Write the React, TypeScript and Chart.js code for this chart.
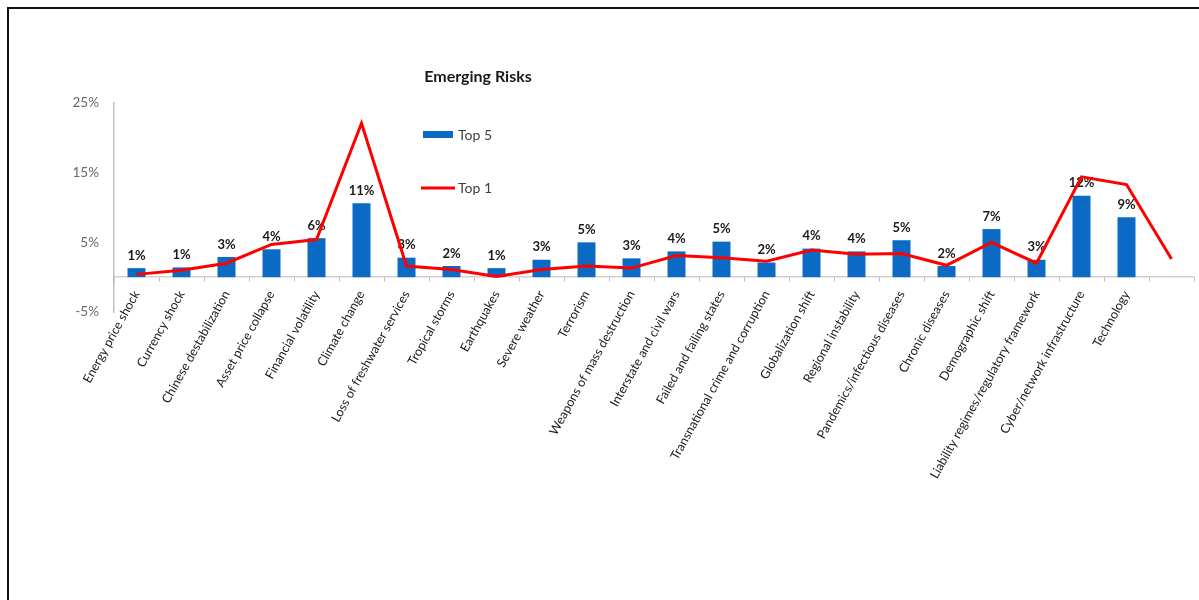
import React, { useEffect, useRef } from "react";
import { Chart, registerables } from "chart.js";

Chart.register(...registerables);

const categories = [
  "Energy price shock",
  "Currency shock",
  "Chinese destabilization",
  "Asset price collapse",
  "Financial volatility",
  "Climate change",
  "Loss of freshwater services",
  "Tropical storms",
  "Earthquakes",
  "Severe weather",
  "Terrorism",
  "Weapons of mass destruction",
  "Interstate and civil wars",
  "Failed and failing states",
  "Transnational crime and corruption",
  "Globalization shift",
  "Regional instability",
  "Pandemics/infectious diseases",
  "Chronic diseases",
  "Demographic shift",
  "Liability regimes/regulatory framework",
  "Cyber/network infrastructure",
  "Technology",
  "",
];

const top5: (number | null)[] = [
  1.3, 1.4, 2.9, 4.0, 5.6, 10.6, 2.8, 1.6, 1.3, 2.5, 5.0, 2.7, 3.7, 5.1, 2.1,
  4.1, 3.7, 5.3, 1.6, 6.9, 2.5, 11.7, 8.6, null,
];

const top1: number[] = [
  0.4, 1.0, 2.0, 4.7, 5.4, 22.1, 1.6, 1.1, 0.1, 1.1, 1.6, 1.3, 3.1, 2.8, 2.3,
  3.9, 3.3, 3.4, 1.7, 5.0, 2.0, 14.4, 13.3, 2.6,
];

const yTicks = [-5, 5, 15, 25];

const seriesNames = ["Top 5", "Top 1"];
const titleText = "Emerging Risks";

const BLUE = "#0B6BC4";
const RED = "#FF0000";
const FONT = "Lato, 'Open Sans', sans-serif";

const overlayPlugin = {
  id: "overlay",
  afterDatasetDraw(chart: any, args: any) {
    if (args.index !== 1) return;
    const ctx = chart.ctx;
    ctx.save();
    ctx.font = `bold 13px ${FONT}`;
    ctx.fillStyle = "#1a1a1a";
    ctx.textAlign = "center";
    ctx.textBaseline = "bottom";
    args.meta.data.forEach((el: any, i: number) => {
      const v = top5[i];
      if (v == null) return;
      ctx.fillText(Math.round(v) + "%", el.x, el.y - 6);
    });
    ctx.restore();
  },
  afterDraw(chart: any) {
    const ctx = chart.ctx;
    ctx.save();
    // title
    ctx.font = `bold 16px ${FONT}`;
    ctx.fillStyle = "#1a1a1a";
    ctx.textAlign = "center";
    ctx.textBaseline = "middle";
    ctx.fillText(titleText, 478, 77);
    // legend
    ctx.font = `14px ${FONT}`;
    ctx.textAlign = "left";
    ctx.fillStyle = BLUE;
    ctx.fillRect(423, 131, 30, 7);
    ctx.fillStyle = "#404040";
    ctx.fillText(seriesNames[0], 458, 135);
    ctx.strokeStyle = RED;
    ctx.lineWidth = 3;
    ctx.beginPath();
    ctx.moveTo(421, 188);
    ctx.lineTo(455, 188);
    ctx.stroke();
    ctx.fillText(seriesNames[1], 458, 188);
    ctx.restore();
  },
};

export default function App() {
  const canvasRef = useRef<HTMLCanvasElement | null>(null);

  useEffect(() => {
    if (!canvasRef.current) return;
    const chart = new Chart(canvasRef.current, {
      type: "bar",
      data: {
        labels: categories,
        datasets: [
          {
            type: "line",
            label: seriesNames[1],
            data: top1,
            borderColor: RED,
            backgroundColor: RED,
            borderWidth: 3,
            pointRadius: 0,
            tension: 0,
            order: 0,
          } as any,
          {
            type: "bar",
            label: seriesNames[0],
            data: top5,
            backgroundColor: BLUE,
            barPercentage: 0.4,
            categoryPercentage: 1,
            order: 1,
          },
        ],
      },
      options: {
        animation: false,
        responsive: true,
        maintainAspectRatio: false,
        layout: { padding: { left: 0, top: 103, right: 5, bottom: 288 } },
        plugins: {
          legend: { display: false },
          title: { display: false },
          tooltip: { enabled: false },
        },
        scales: {
          x: {
            type: "category",
            position: { y: 0 } as any,
            offset: true,
            grid: {
              offset: true,
              drawOnChartArea: false,
              drawTicks: true,
              tickLength: 4,
              color: "#BFBFBF",
            },
            border: { display: true, color: "#D6CFCF", width: 1.5 },
            ticks: {
              autoSkip: false,
              maxRotation: 61,
              minRotation: 61,
              padding: 7,
              color: "#1a1a1a",
              font: { family: FONT, size: 12.5 },
            },
          },
          y: {
            min: -5,
            max: 25,
            afterBuildTicks: (scale: any) => {
              scale.ticks = yTicks.map((v) => ({ value: v }));
            },
            afterFit: (scale: any) => {
              scale.width = 114;
            },
            grid: { display: false, drawTicks: false },
            border: { display: true, color: "#BFBFBF", width: 1.5 },
            ticks: {
              padding: 15,
              color: "#6a6a6a",
              font: { family: FONT, size: 13.5 },
              callback: (v: any) => v + "%",
            },
          },
        },
      },
      plugins: [overlayPlugin],
    });
    return () => chart.destroy();
  }, []);

  return (
    <div
      style={{
        position: "fixed",
        left: 0,
        top: 0,
        width: 1199,
        height: 600,
        background: "#fff",
        overflow: "hidden",
      }}
    >
      <div
        style={{
          position: "absolute",
          left: 7,
          top: 7,
          width: 1300,
          height: 700,
          borderTop: "2px solid #111",
          borderLeft: "2px solid #111",
        }}
      />
      <div style={{ position: "absolute", left: 0, top: 0, width: 1199, height: 600 }}>
        <canvas ref={canvasRef} />
      </div>
    </div>
  );
}
